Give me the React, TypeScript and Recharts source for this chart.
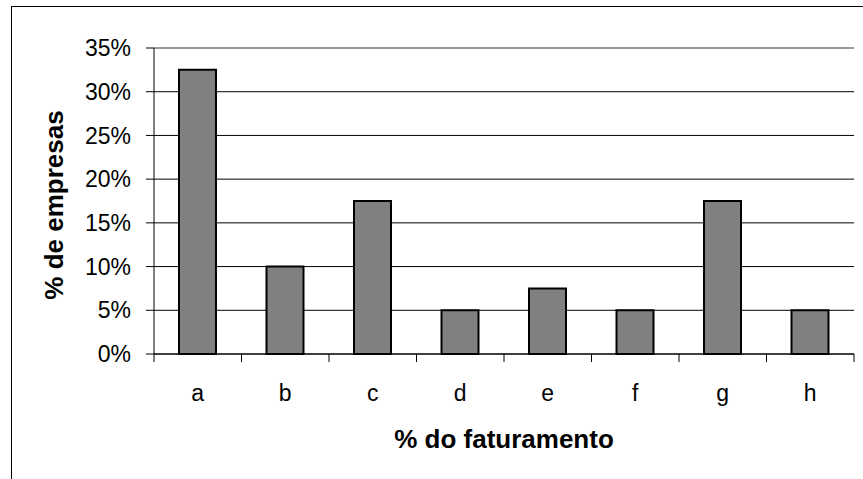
import { BarChart, Bar, XAxis, YAxis, CartesianGrid, ReferenceLine } from 'recharts';

const categories = ['a', 'b', 'c', 'd', 'e', 'f', 'g', 'h'];
const empresas = [32.5, 10, 17.5, 5, 7.5, 5, 17.5, 5];
const yTicks = [0, 5, 10, 15, 20, 25, 30, 35];

const chartData = categories.map((name, i) => ({ name, value: empresas[i] }));

const FONT = '"Liberation Sans", Arial, sans-serif';

// category labels with tick marks between the bars (Excel style)
const XTick = (props: any) => {
  const { x, y, payload, index, visibleTicksCount } = props;
  const half = payload?.offset ?? 0;
  return (
    <g>
      <line x1={x - half} x2={x - half} y1={y} y2={y + 8} stroke="#000" />
      {index === visibleTicksCount - 1 && (
        <line x1={x + half} x2={x + half} y1={y} y2={y + 8} stroke="#000" />
      )}
      <text x={x} y={y + 47} textAnchor="middle" fontSize={23} fill="#000" fontFamily={FONT}>
        {payload.value}
      </text>
    </g>
  );
};

const XTitle = (props: any) => {
  const vb = props.viewBox;
  return (
    <text
      x={vb.x + vb.width / 2}
      y={vb.y + 94}
      textAnchor="middle"
      fontSize={26}
      fontWeight="bold"
      fontFamily={FONT}
      fill="#000"
    >
      % do faturamento
    </text>
  );
};

const YTitle = (props: any) => {
  const vb = props.viewBox;
  const cx = vb.x + 63;
  const cy = vb.y + vb.height / 2 + 4;
  return (
    <text
      x={cx}
      y={cy}
      transform={`rotate(-90 ${cx} ${cy})`}
      textAnchor="middle"
      fontSize={26}
      fontWeight="bold"
      fontFamily={FONT}
      fill="#000"
    >
      % de empresas
    </text>
  );
};

export default function App() {
  return (
    <div style={{ position: 'absolute', left: 0, top: 0, width: 863, height: 479, overflow: 'hidden', background: '#fff' }}>
      <div
        style={{
          position: 'absolute',
          left: 11,
          top: 6,
          width: 900,
          height: 520,
          border: '1.5px solid #000',
        }}
      />
      <div style={{ position: 'absolute', left: 0, top: 0 }}>
        <BarChart
          width={863}
          height={479}
          data={chartData}
          margin={{ top: 48, right: 9, bottom: 0, left: 0 }}
          barSize={37}
        >
          <CartesianGrid vertical={false} stroke="#000" strokeWidth={1} />
          <ReferenceLine y={35} stroke="#999" strokeWidth={2} />
          <XAxis
            dataKey="name"
            height={125}
            tickLine={false}
            tickSize={0}
            tickMargin={0}
            axisLine={{ stroke: '#000' }}
            tick={<XTick />}
            interval={0}
            label={<XTitle />}
          />
          <YAxis
            width={154}
            domain={[0, 35]}
            ticks={yTicks}
            interval={0}
            tickFormatter={(v) => `${v}%`}
            tickSize={8}
            tickMargin={15}
            tickLine={{ stroke: '#000' }}
            axisLine={{ stroke: '#000' }}
            tick={{ fontSize: 23, fill: '#000', fontFamily: FONT }}
            label={<YTitle />}
          />
          <YAxis yAxisId="right" orientation="right" width={0} domain={[0, 35]} tick={false} tickLine={false} axisLine={{ stroke: '#999', strokeWidth: 2 }} />
          <Bar dataKey="value" fill="#808080" stroke="#000" strokeWidth={2} isAnimationActive={false} />
        </BarChart>
      </div>
    </div>
  );
}
